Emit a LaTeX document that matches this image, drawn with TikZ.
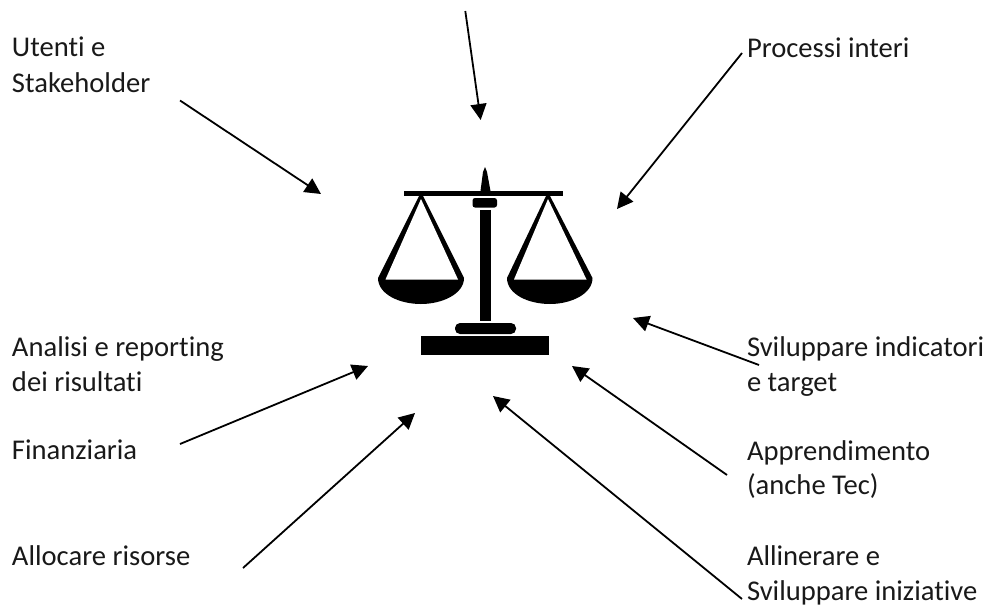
\documentclass[tikz,border=0pt]{standalone}
\usepackage{fontspec}
\setmainfont{Carlito}[RawFeature={-liga}]
\usetikzlibrary{arrows.meta}
\tikzset{
  lbl/.style={anchor=base west,inner sep=0pt,outer sep=0pt,align=left,font=\fontsize{28.6}{35}\selectfont,text=black!90},
  conn/.style={draw=black,line width=1.8pt,-{Triangle[length=16pt,width=16pt]}},
  solidpart/.style={fill=black,draw=none}
}
\begin{document}
\begin{tikzpicture}[x=1pt,y=-1pt]
\useasboundingbox (0,0) rectangle (991,606);
% labels
\node[lbl] (utenti) at (12,56) {Utenti e};
\node[lbl] (stake) at (12,92.5) {Stakeholder};
\node[lbl] (proc) at (747,57) {Processi interi};
\node[lbl] (svi) at (747,356) {Sviluppare indicatori};
\node[lbl] (tgt) at (747,391) {e target};
\node[lbl] (app) at (747,460) {Apprendimento};
\node[lbl] (tec) at (747,494.5) {(anche Tec)};
\node[lbl] (all) at (747,565) {Allinerare e};
\node[lbl] (ini) at (747,600) {Sviluppare iniziative};
\node[lbl] (ana) at (12,356) {Analisi e reporting};
\node[lbl] (dei) at (12,391) {dei risultati};
\node[lbl] (fin) at (12,459) {Finanziaria};
\node[lbl] (alc) at (12,565) {Allocare risorse};
% connector ends
\coordinate (s1) at (465.3,11);   \coordinate (t1) at (480.7,120);
\coordinate (s2) at (180,100.5);  \coordinate (t2) at (321,194);
\coordinate (s3) at (742,53);     \coordinate (t3) at (617,209);
\coordinate (s4) at (759,365);    \coordinate (t4) at (633,318);
\coordinate (s5) at (727,475);    \coordinate (t5) at (572,366);
\coordinate (s6) at (742,599);    \coordinate (t6) at (493,396);
\coordinate (s7) at (180,444);    \coordinate (t7) at (368,366);
\coordinate (s8) at (243,568);    \coordinate (t8) at (415,413);
\foreach \i in {1,...,8} \draw[conn] (s\i) -- (t\i);
% scales
\fill[solidpart] (403.5,190.5) rectangle (563,196);
\fill[solidpart] (480.5,191) -- (483,172) -- (485,167) -- (487,172) -- (490.5,191) -- cycle;
\fill[solidpart,rounded corners=2.5pt] (472.5,198) rectangle (497,207.5);
\fill[solidpart] (480,210) rectangle (490.5,321);
\fill[solidpart,rounded corners=5pt] (455,323) rectangle (516,334);
\fill[solidpart] (421,336) rectangle (549,355);
% left pan
\fill[solidpart] (419.5,195) -- (422.5,195) -- (464,278) .. controls (464,294) and (442,304) .. (421,304)
  .. controls (399,304) and (378,294) .. (378,278) -- cycle;
\fill[white] (421,199) -- (458,279.5) -- (385.5,279.5) -- cycle;
% right pan
\fill[solidpart] (546.5,195) -- (549.5,195) -- (592.5,278) .. controls (592.5,294) and (571,304) .. (550,304)
  .. controls (528,304) and (507,294) .. (507,278) -- cycle;
\fill[white] (548,199) -- (586.5,279.5) -- (514,279.5) -- cycle;
\end{tikzpicture}
\end{document}
